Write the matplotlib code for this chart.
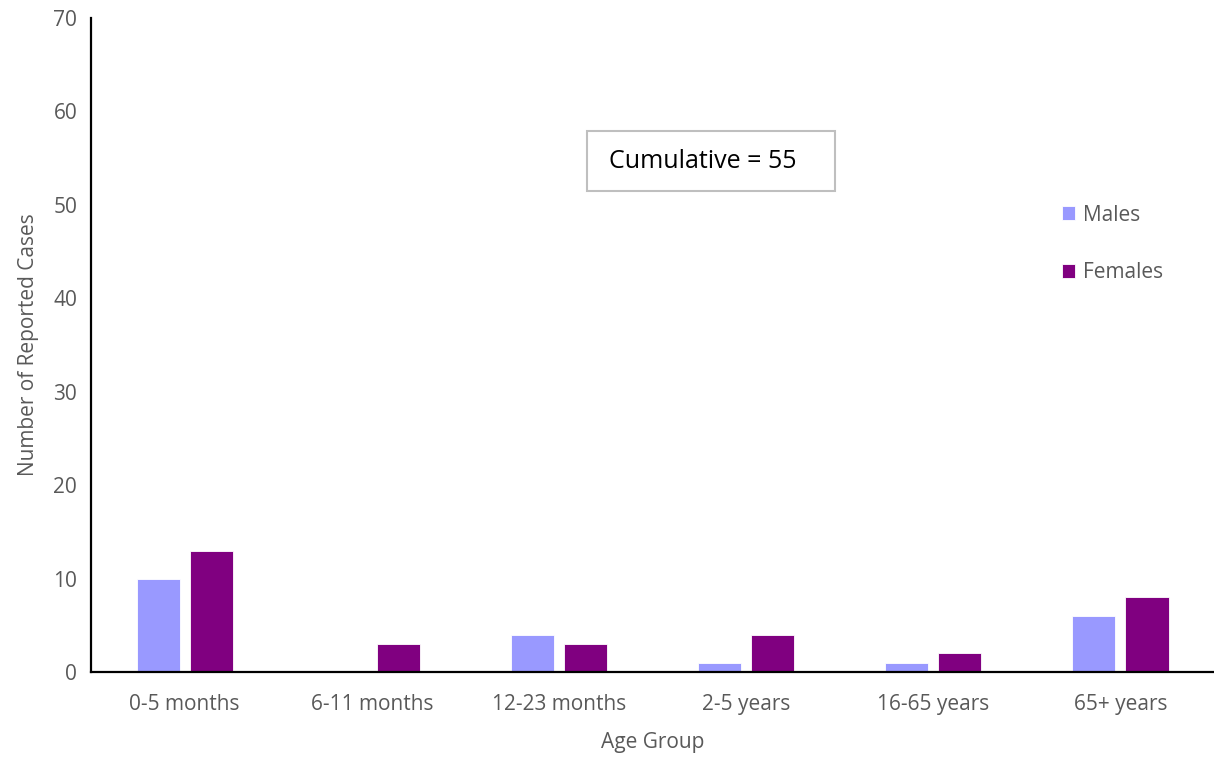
import matplotlib.pyplot as plt
import matplotlib.patches as mpatches
import numpy as np

plt.rcParams['font.family'] = ['Open Sans', 'DejaVu Sans']

age_groups = ['0-5 months', '6-11 months', '12-23 months', '2-5 years', '16-65 years', '65+ years']
males = [10, 0, 4, 1, 1, 6]
females = [13, 3, 3, 4, 2, 8]
cumulative = 55

male_color = '#9999FF'
female_color = '#800080'
text_color = '#595959'

fig = plt.figure(figsize=(12.14, 7.57), dpi=100)
ax = fig.add_axes([0.075, 0.1123, 0.925, 0.8639])

x = np.arange(len(age_groups))
w = 0.23
ax.bar(x - 0.142, males, w, color=male_color, edgecolor='white', linewidth=0.6, label='Males')
ax.bar(x + 0.142, females, w, color=female_color, edgecolor='white', linewidth=0.6, label='Females')

ax.set_xlim(-0.5, 5.5)
ax.set_ylim(0, 70)
ax.set_yticks(range(0, 71, 10))
ax.set_xticks(x)
ax.set_xticklabels(age_groups)
ax.tick_params(length=0, labelsize=15, labelcolor=text_color)
ax.tick_params(axis='y', pad=10)
ax.tick_params(axis='x', pad=16)

for s in ['top', 'right']:
    ax.spines[s].set_visible(False)
for s in ['left', 'bottom']:
    ax.spines[s].set_linewidth(1.6)
    ax.spines[s].set_color('black')

ax.set_ylabel('Number of Reported Cases', fontsize=15, color=text_color, labelpad=10)
ax.set_xlabel('Age Group', fontsize=15, color=text_color, labelpad=12)

# cumulative box
box = mpatches.Rectangle((587 / 1214, 1 - 191 / 757), 248 / 1214, 60 / 757,
                         transform=fig.transFigure, facecolor='white',
                         edgecolor='#BFBFBF', linewidth=1.5)
fig.patches.append(box)
fig.text(609 / 1214, 1 - 162 / 757, 'Cumulative = %d' % cumulative,
         fontsize=18, color='black', va='center', ha='left')

leg = fig.legend(loc='upper left', bbox_to_anchor=(1043 / 1214, 1 - 186 / 757),
                 frameon=False, fontsize=15, handlelength=0.65, handleheight=0.65,
                 handletextpad=0.35, labelspacing=1.75, labelcolor=text_color)

fig.savefig('out.png', dpi=100)
